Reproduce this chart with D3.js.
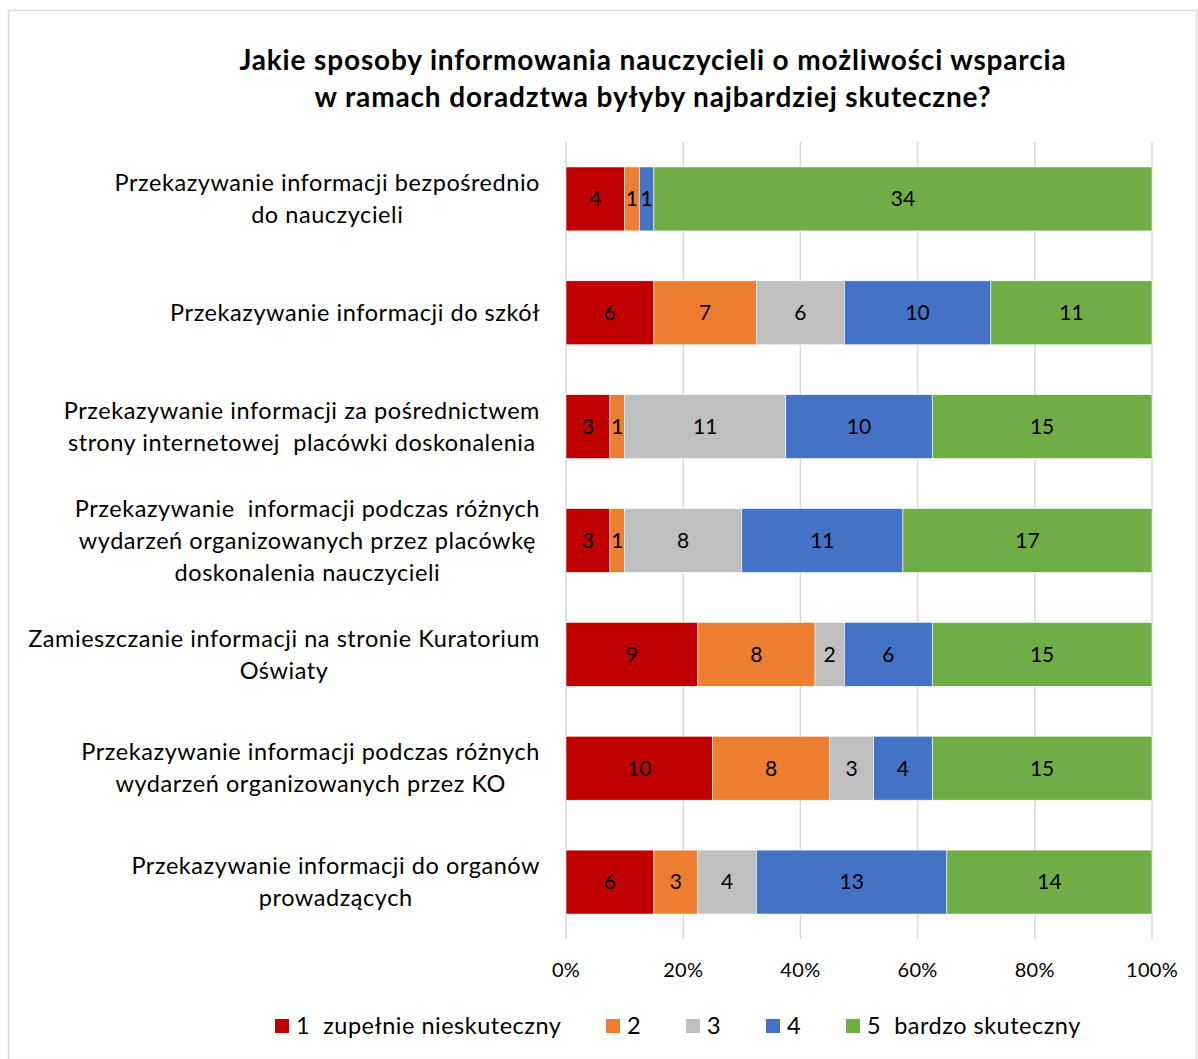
<!DOCTYPE html>
<html>
<head>
<meta charset="utf-8">
<script src="https://cdn.jsdelivr.net/npm/d3@7"></script>
<style>
  body { margin: 0; background: #fff; }
  svg text { font-family: Lato, "Open Sans", sans-serif; fill: #000; white-space: pre; }
</style>
</head>
<body>
<div id="chart"></div>
<script>
// categories (line breaks as in the original chart)
var categories = [
    "Przekazywanie informacji bezpośrednio\ndo nauczycieli",
    "Przekazywanie informacji do szkół",
    "Przekazywanie informacji za pośrednictwem\nstrony internetowej  placówki doskonalenia",
    "Przekazywanie  informacji podczas różnych\nwydarzeń organizowanych przez placówkę\ndoskonalenia nauczycieli",
    "Zamieszczanie informacji na stronie Kuratorium\nOświaty",
    "Przekazywanie informacji podczas różnych\nwydarzeń organizowanych przez KO",
    "Przekazywanie informacji do organów\nprowadzących"
];

var seriesNames = ["1  zupełnie nieskuteczny", "2", "3", "4", "5  bardzo skuteczny"];
var seriesColors = ["#C00000", "#ED7D31", "#BFBFBF", "#4472C4", "#70AD47"];

// counts per category, one array per series
var s1 = [4, 6, 3, 3, 9, 10, 6];
var s2 = [1, 7, 1, 1, 8, 8, 3];
var s3 = [0, 6, 11, 8, 2, 3, 4];
var s4 = [1, 10, 10, 11, 6, 4, 13];
var s5 = [34, 11, 15, 17, 15, 15, 14];

var xTicks = [0, 0.2, 0.4, 0.6, 0.8, 1];

var titleLines = [
    "Jakie sposoby informowania nauczycieli o możliwości wsparcia",
    "w ramach doradztwa byłyby najbardziej skuteczne?"
];

var W = 1198, H = 1059;
var plot = {left: 566, right: 1152, top: 142, bottom: 939};

var svg = d3.select("#chart").append("svg")
    .attr("width", W)
    .attr("height", H);

// outer frame
svg.append("rect")
    .attr("x", 8.5).attr("y", 10.5)
    .attr("width", W - 10).attr("height", H - 10)
    .attr("fill", "#fff")
    .attr("stroke", "#D9D9D9")
    .attr("stroke-width", 1.5);

// title
svg.append("g").selectAll("text")
    .data(titleLines)
    .enter().append("text")
    .attr("x", 653)
    .attr("y", function(d, i) { return 70 + i * 37; })
    .attr("text-anchor", "middle")
    .style("font-size", "28px")
    .style("letter-spacing", "0.85px")
    .style("font-weight", "bold")
    .text(function(d) { return d; });

var rows = categories.map(function(c, i) {
    var vals = [s1[i], s2[i], s3[i], s4[i], s5[i]];
    var total = d3.sum(vals);
    var row = {cat: c, total: total};
    vals.forEach(function(v, k) { row["k" + k] = v / total; row["v" + k] = v; });
    return row;
});

var keys = seriesNames.map(function(d, k) { return "k" + k; });
var stacked = d3.stack().keys(keys)(rows);

var x = d3.scaleLinear().domain([0, 1]).range([plot.left, plot.right]);
var y = d3.scaleBand()
    .domain(categories)
    .range([plot.top, plot.bottom])
    .paddingInner(0.4382)
    .paddingOuter(0.2191);

// gridlines
svg.append("g").selectAll("line")
    .data(xTicks)
    .enter().append("line")
    .attr("x1", function(d) { return x(d); })
    .attr("x2", function(d) { return x(d); })
    .attr("y1", plot.top)
    .attr("y2", plot.bottom)
    .attr("stroke", "#D9D9D9")
    .attr("stroke-width", 1.5);

// x tick labels
svg.append("g").selectAll("text")
    .data(xTicks)
    .enter().append("text")
    .attr("x", function(d) { return x(d); })
    .attr("y", 977)
    .attr("text-anchor", "middle")
    .style("font-size", "20px")
    .style("letter-spacing", "0.3px")
    .text(d3.format(".0%"));

// bars
var layers = svg.append("g").selectAll("g")
    .data(stacked)
    .enter().append("g")
    .attr("fill", function(d, k) { return seriesColors[k]; });

layers.selectAll("rect")
    .data(function(d) { return d; })
    .enter().append("rect")
    .attr("x", function(d) { return x(d[0]); })
    .attr("y", function(d) { return y(d.data.cat); })
    .attr("width", function(d) { return x(d[1]) - x(d[0]); })
    .attr("height", y.bandwidth())
    .attr("stroke", "#fff")
    .attr("stroke-width", 0.6);

// data labels
layers.each(function(layer, k) {
    d3.select(this).selectAll("text")
        .data(layer.filter(function(d) { return d.data["v" + k] > 0; }))
        .enter().append("text")
        .attr("x", function(d) { return (x(d[0]) + x(d[1])) / 2; })
        .attr("y", function(d) { return y(d.data.cat) + y.bandwidth() / 2; })
        .attr("dy", "0.35em")
        .attr("text-anchor", "middle")
        .style("font-size", "21px")
        .style("fill", "#000")
        .text(function(d) { return d.data["v" + k]; });
});

// category labels: each block centred on itself, right edge at 540
var labelG = svg.append("g");
categories.forEach(function(c) {
    var lines = c.split("\n");
    var g = labelG.append("g");
    var texts = g.selectAll("text")
        .data(lines)
        .enter().append("text")
        .style("font-size", "23.5px")
        .style("letter-spacing", "0.55px")
        .attr("text-anchor", "middle")
        .text(function(d) { return d; });
    var maxW = d3.max(texts.nodes(), function(n) { return n.getComputedTextLength(); });
    var lh = 32;
    var cy = y(c) + y.bandwidth() / 2;
    texts
        .attr("x", 540 - maxW / 2)
        .attr("y", function(d, i) { return cy + (i - (lines.length - 1) / 2) * lh; })
        .attr("dy", "0.35em");
});

// legend
var legendX = [275, 606, 686, 766, 846];
var legend = svg.append("g").selectAll("g")
    .data(seriesNames)
    .enter().append("g")
    .attr("transform", function(d, k) { return "translate(" + legendX[k] + ",1026)"; });

legend.append("rect")
    .attr("x", 0).attr("y", -7)
    .attr("width", 14).attr("height", 14)
    .attr("fill", function(d, k) { return seriesColors[k]; });

legend.append("text")
    .attr("x", 21)
    .attr("dy", "0.35em")
    .style("font-size", "23.5px")
    .style("letter-spacing", "0.5px")
    .text(function(d) { return d; });
</script>
</body>
</html>
